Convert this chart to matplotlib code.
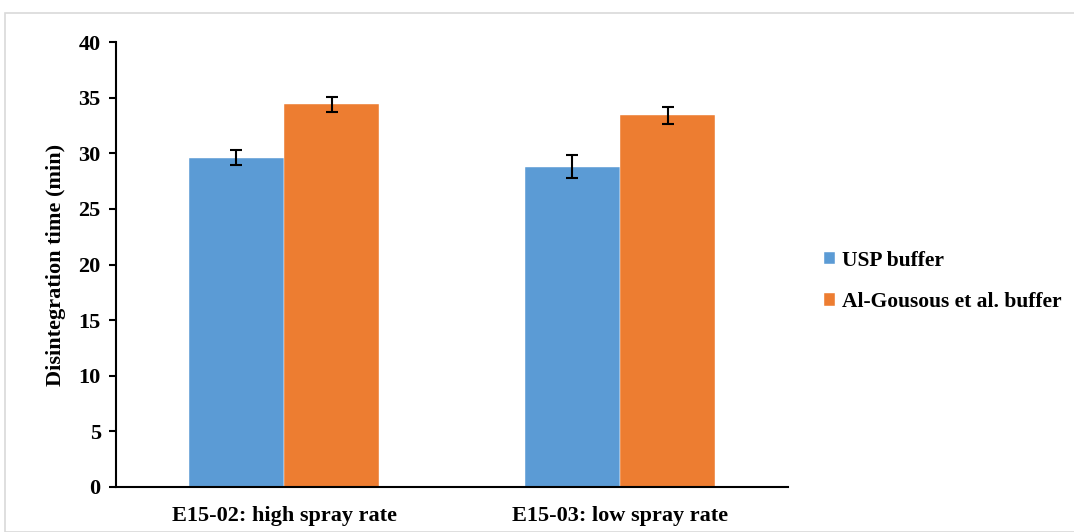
import numpy as np
import matplotlib.pyplot as plt
from matplotlib.patches import Rectangle

# data
categories = ['E15-02: high spray rate', 'E15-03: low spray rate']
series_names = ['USP buffer', 'Al-Gousous et al. buffer']
usp_vals = [29.6, 28.8]
usp_err = [0.65, 1.0]
alg_vals = [34.4, 33.4]
alg_err = [0.7, 0.75]

colors = ['#5B9BD5', '#ED7D31']

plt.rcParams['font.family'] = ['Liberation Serif', 'DejaVu Serif']
plt.rcParams['font.weight'] = 'bold'

fig = plt.figure(figsize=(10.74, 5.32), dpi=100)
# light outer frame like the spreadsheet chart area
fig.patches.append(Rectangle((5 / 1074, 0), 1.2, 1 - 13 / 532, transform=fig.transFigure,
                             fill=False, edgecolor='#D9D9D9', linewidth=1.2))
ax = fig.add_axes([116 / 1074, 1 - 487 / 532, 672 / 1074, 445 / 532])

x = np.arange(len(categories))
w = 0.283
ekw = dict(ecolor='black', elinewidth=1.5, capsize=4.5, capthick=1.5)
ax.bar(x - w / 2, usp_vals, w, yerr=usp_err, color=colors[0], label=series_names[0],
       edgecolor='white', linewidth=0.3, error_kw=ekw)
ax.bar(x + w / 2, alg_vals, w, yerr=alg_err, color=colors[1], label=series_names[1],
       edgecolor='white', linewidth=0.3, error_kw=ekw)

ax.set_xlim(-0.5, 1.5)
ax.set_ylim(0, 40)
ax.set_yticks(range(0, 41, 5))
ax.set_xticks(x)
ax.set_xticklabels(categories, fontsize=16, fontweight='bold')
ax.tick_params(axis='x', length=0, pad=14)
ax.tick_params(axis='y', direction='out', length=5, width=1.5, labelsize=16, pad=6)
for lab in ax.get_yticklabels():
    lab.set_fontweight('bold')
ax.set_ylabel('Disintegration time (min)', fontsize=16, fontweight='bold', labelpad=9)

for s in ['top', 'right']:
    ax.spines[s].set_visible(False)
for s in ['left', 'bottom']:
    ax.spines[s].set_linewidth(1.5)

ax.legend(loc='center left', bbox_to_anchor=(1.025, 0.462), frameon=False,
          prop={'size': 15.5, 'weight': 'bold'}, handlelength=0.5, handleheight=0.5,
          handletextpad=0.35, labelspacing=1.0)

fig.savefig('out.png', dpi=100)
